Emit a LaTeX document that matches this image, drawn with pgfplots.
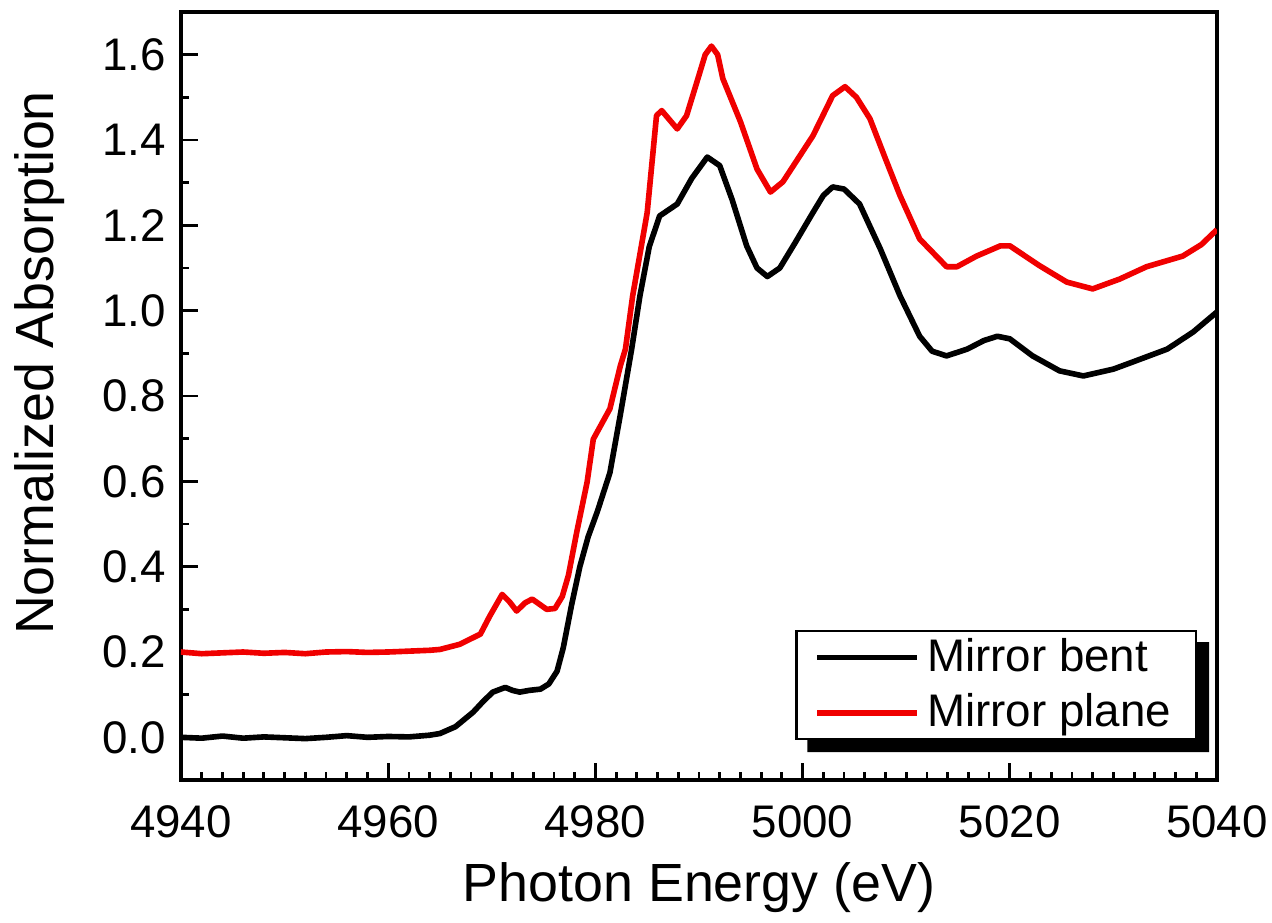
\documentclass[border=0pt]{standalone}
\usepackage{pgfplots}
\pgfplotsset{compat=1.18}
\usepackage{fontspec}
\setmainfont{Liberation Sans}
\definecolor{myred}{RGB}{240,0,0}
\begin{document}
\begin{tikzpicture}
\begin{axis}[
  scale only axis,
  width=10.36cm, height=7.68cm,
  xmin=4940, xmax=5040, ymin=-0.1, ymax=1.7,
  xtick={4940,4960,...,5040},
  ytick={0,0.2,...,1.6},
  minor x tick num=9,
  minor y tick num=1,
  tick align=inside,
  xtick pos=bottom, ytick pos=left,
  major tick length=0.17cm, minor tick length=0.08cm,
  every tick/.style={black, line width=0.8pt},
  axis line style={line width=0.9pt},
  /pgf/number format/assume math mode=true,
  /pgf/number format/.cd, fixed, fixed zerofill, precision=1, 1000 sep={},
  /pgfplots/.cd,
  xticklabel style={/pgf/number format/precision=0, /pgf/number format/fixed zerofill=false, yshift=-0.13cm},
  yticklabel style={xshift=-0.03cm},
  tick label style={font=\fontsize{13}{15}\selectfont},
  label style={font=\fontsize{15.3}{18}\selectfont},
  xlabel={Photon Energy (eV)},
  ylabel={Normalized Absorption},
  xlabel style={at={(axis description cs:0.5,0)}, anchor=center, yshift=-1.08cm},
  ylabel style={at={([xshift=-1.41cm]axis description cs:0,0.543)}, anchor=center},
  legend style={at={(0.9807,0.052)}, anchor=south east, draw=black, line width=0.6pt,
    fill=white, font=\fontsize{13}{15}\selectfont, inner xsep=0.18cm, inner ysep=0.0cm,
    row sep=0.03cm, name=leg,
    /tikz/every even column/.append style={column sep=0.02cm}},
  legend cell align=left,
  legend image code/.code={\draw[#1] (0cm,0cm) -- (1.0cm,0cm);},
]
\addplot[black, line width=1.6pt, line join=round] coordinates {
(4940,0.0) (4942,-0.002) (4944,0.003) (4946,-0.002) (4948,0.001) (4950,-0.001)
(4952,-0.003) (4954,0.0) (4956,0.004) (4958,0.0) (4960,0.002) (4962,0.001)
(4964,0.005) (4965,0.009) (4966.5,0.025) (4968.2,0.059) (4969.2,0.085) (4970.1,0.106)
(4971.3,0.117) (4972.0,0.110) (4972.7,0.106) (4973.6,0.110) (4974.7,0.113) (4975.5,0.125)
(4976.3,0.155) (4976.9,0.21) (4977.7,0.31) (4978.5,0.40) (4979.3,0.47) (4980.2,0.53)
(4981.4,0.62) (4982.4,0.755) (4983.5,0.91) (4984.3,1.035) (4985.2,1.15) (4986.2,1.222)
(4987.9,1.25) (4989.3,1.31) (4990.8,1.36) (4992.0,1.34) (4993.2,1.26) (4994.6,1.152)
(4995.6,1.10) (4996.6,1.08) (4997.8,1.10) (4999.3,1.16) (5001.0,1.23) (5002.0,1.27)
(5002.9,1.29) (5004.0,1.285) (5005.5,1.25) (5007.5,1.145) (5009.4,1.035) (5011.3,0.94)
(5012.5,0.905) (5013.9,0.894) (5015.9,0.91) (5017.5,0.93) (5018.8,0.94) (5020.0,0.934)
(5022.2,0.894) (5024.8,0.859) (5027.1,0.847) (5030.0,0.863) (5031.9,0.88) (5035.2,0.91)
(5037.7,0.95) (5040,0.997)
};
\addlegendentry{Mirror bent}
\addplot[myred, line width=1.6pt, line join=round] coordinates {
(4940,0.2) (4942,0.196) (4944,0.198) (4946,0.2) (4948,0.197) (4950,0.199)
(4952,0.196) (4954,0.2) (4956,0.201) (4958,0.199) (4960,0.2) (4962,0.202)
(4964,0.204) (4965,0.206) (4966.9,0.218) (4968.9,0.242) (4969.8,0.284) (4971.0,0.335)
(4971.7,0.318) (4972.4,0.296) (4973.2,0.315) (4973.9,0.324) (4975.3,0.30) (4976.1,0.302)
(4976.8,0.33) (4977.4,0.38) (4978.2,0.481) (4979.2,0.598) (4979.8,0.699) (4980.7,0.739)
(4981.4,0.77) (4982.4,0.87) (4982.9,0.91) (4983.6,1.035) (4985.0,1.23) (4985.9,1.457)
(4986.4,1.469) (4987.9,1.426) (4988.8,1.457) (4989.9,1.544) (4990.6,1.60) (4991.2,1.62)
(4991.8,1.60) (4992.3,1.544) (4994.0,1.443) (4995.6,1.332) (4996.9,1.278) (4998.1,1.302)
(5001.0,1.41) (5002.9,1.504) (5004.1,1.525) (5005.2,1.50) (5006.5,1.45) (5008,1.356)
(5009.4,1.27) (5011.3,1.168) (5013.9,1.103) (5014.9,1.103) (5016.8,1.128) (5019.1,1.152)
(5020.0,1.152) (5022.9,1.105) (5025.5,1.067) (5028.0,1.051) (5030.6,1.074) (5033.2,1.103)
(5036.7,1.128) (5038.5,1.155) (5040,1.19)
};
\addlegendentry{Mirror plane}
\end{axis}
\fill[black] ([shift={(0.12cm,-0.12cm)}]leg.south west) -- ([shift={(0.12cm,-0.12cm)}]leg.south east)
  -- ([shift={(0.12cm,-0.12cm)}]leg.north east) -- ([shift={(0cm,-0.12cm)}]leg.north east)
  -- (leg.south east) -- ([shift={(0.12cm,0cm)}]leg.south west) -- cycle;
\pgfresetboundingbox
\path ([shift={(-1.81cm,-1.43cm)}]current axis.south west) rectangle ([shift={(0.55cm,0.12cm)}]current axis.north east);
\end{tikzpicture}
\end{document}
